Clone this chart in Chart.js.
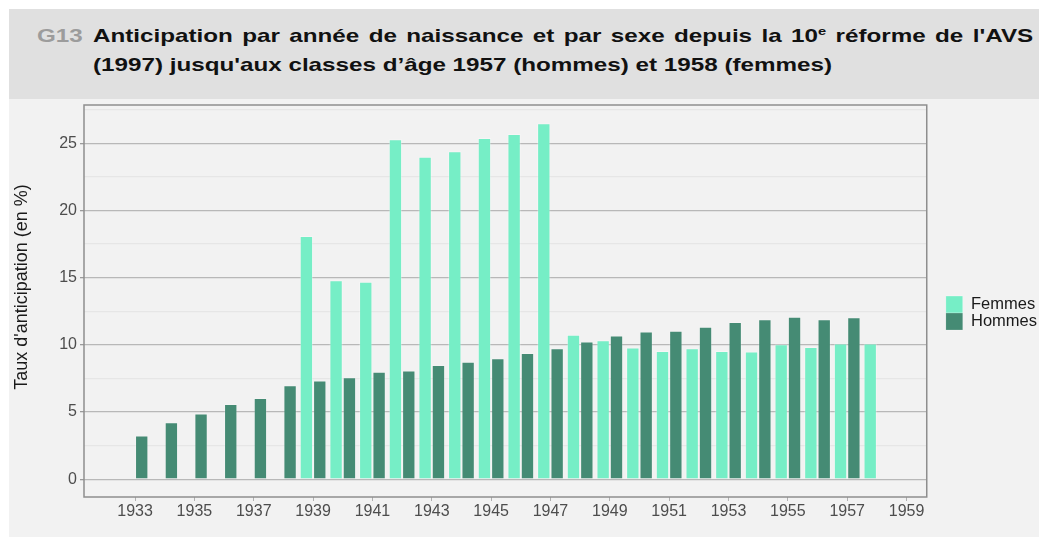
<!DOCTYPE html>
<html>
<head>
<meta charset="utf-8">
<script src="https://cdn.jsdelivr.net/npm/chart.js@4.4.1/dist/chart.umd.min.js"></script>
<style>
html,body{margin:0;padding:0;background:#ffffff;overflow:hidden;width:1039px;height:537px;}
#head{position:absolute;left:9px;top:9px;width:1030px;height:90px;background:#e0e0e0;}
.ht{position:absolute;top:12px;font-family:"Liberation Sans",Arial,sans-serif;font-weight:bold;font-size:19px;line-height:29px;transform:scaleX(1.274);transform-origin:0 0;white-space:normal;}
#g{left:28px;color:#9c9c9c;}
#t{left:84px;width:738px;color:#111111;text-align:justify;}
#t sup{font-size:11.5px;line-height:0;vertical-align:7px;}
#panel{position:absolute;left:9px;top:99px;width:1030px;height:438px;background:#f2f2f2;overflow:hidden;}
#c{position:absolute;left:0;top:0;}
</style>
</head>
<body>
<div id="head">
  <div id="g" class="ht">G13</div>
  <div id="t" class="ht">Anticipation par année de naissance et par sexe depuis la 10<sup>e</sup> réforme de l'AVS (1997) jusqu'aux classes d’âge 1957 (hommes) et 1958 (femmes)</div>
</div>
<div id="panel"><canvas id="c" width="1038" height="438"></canvas></div>
<script>
// ---- data ----
const years = [1933,1934,1935,1936,1937,1938,1939,1940,1941,1942,1943,1944,1945,1946,1947,1948,1949,1950,1951,1952,1953,1954,1955,1956,1957,1958];
const femmes = [null,null,null,null,null,null,18.1,14.8,14.7,25.3,24.0,24.4,25.4,25.7,26.5,10.75,10.35,9.8,9.55,9.75,9.55,9.5,10.05,9.85,10.1,10.1];
const hommes = [3.25,4.25,4.9,5.6,6.05,7.0,7.35,7.6,8.0,8.1,8.5,8.75,9.0,9.4,9.75,10.25,10.7,11.0,11.05,11.35,11.7,11.9,12.1,11.9,12.05,null];
const xTickYears = [1933,1935,1937,1939,1941,1943,1945,1947,1949,1951,1953,1955,1957,1959];
const yTickLabels = [0,5,10,15,20,25];
const yMinorLines = [2.5,7.5,12.5,17.5,22.5,27.5];
const seriesNames = ['Femmes','Hommes'];
const yTitle = "Taux d'anticipation (en %)";

const FONT = '"Liberation Sans", Arial, sans-serif';

const panelBorder = {
  id: 'panelBorder',
  afterDatasetsDraw(chart) {
    const {ctx, chartArea: a} = chart;
    ctx.save();
    ctx.strokeStyle = '#8e8e8e';
    ctx.lineWidth = 1.5;
    ctx.strokeRect(a.left, a.top, a.right - a.left, a.bottom - a.top);
    ctx.restore();
  }
};

// y-axis title, centred on the whole panel (plot + x labels) as in the reference
const yAxisTitle = {
  id: 'yAxisTitle',
  afterDraw(chart) {
    const {ctx, chartArea: a} = chart;
    ctx.save();
    ctx.font = '18px ' + FONT;
    ctx.fillStyle = '#1a1a1a';
    ctx.textAlign = 'center';
    ctx.textBaseline = 'middle';
    ctx.translate(13, (a.top + a.bottom) / 2 - 14);
    ctx.rotate(-Math.PI / 2);
    ctx.fillText(yTitle, 0, 0);
    ctx.restore();
  }
};

new Chart(document.getElementById('c'), {
  type: 'bar',
  data: {
    labels: years,
    datasets: [
      { label: seriesNames[0], data: femmes, backgroundColor: '#76EEC6', borderColor: 'rgba(255,255,255,0.3)', borderWidth: 1 },
      { label: seriesNames[1], data: hommes, backgroundColor: '#458B74', borderColor: 'rgba(255,255,255,0.2)', borderWidth: 1 }
    ]
  },
  options: {
    responsive: false,
    animation: false,
    events: [],
    categoryPercentage: 0.9,
    barPercentage: 1.0,
    layout: { padding: { top: 6, bottom: 16, left: 0, right: 0 } },
    plugins: {
      tooltip: { enabled: false },
      legend: {
        position: 'right',
        align: 'center',
        labels: {
          boxWidth: 17, boxHeight: 17, padding: 0,
          color: '#1a1a1a',
          font: { family: FONT, size: 16.5 }
        }
      }
    },
    scales: {
      x: {
        type: 'linear',
        offset: false,
        min: 1931.28,
        max: 1959.68,
        grid: { offset: false, drawOnChartArea: false, drawTicks: true, tickLength: 4, tickColor: '#b0b0b0', lineWidth: 1 },
        border: { display: false },
        afterBuildTicks: s => { s.ticks = xTickYears.map(v => ({ value: v })); },
        afterFit: s => { s.height = 24; s.paddingLeft = 0; s.paddingRight = 0; },
        ticks: {
          autoSkip: false, maxRotation: 0, padding: 1,
          color: '#4d4d4d',
          font: { family: FONT, size: 16 },
          callback: v => String(v)
        }
      },
      y: {
        min: -1.32,
        max: 27.85,
        grid: {
          color: c => (c.tick && yTickLabels.includes(c.tick.value)) ? '#b8b8b8' : '#e6e6e6',
          tickColor: c => (c.tick && yTickLabels.includes(c.tick.value)) ? '#9a9a9a' : 'rgba(0,0,0,0)',
          lineWidth: 1.3,
          tickLength: 4
        },
        border: { display: false },
        afterBuildTicks: s => { s.ticks = yTickLabels.concat(yMinorLines).sort((a,b)=>a-b).map(v => ({ value: v })); },
        afterFit: s => { s.width = 75; s.paddingTop = 0; s.paddingBottom = 0; },
        ticks: {
          padding: 3,
          color: '#4d4d4d',
          font: { family: FONT, size: 16 },
          callback: v => yTickLabels.includes(v) ? String(v) : ''
        },
        title: { display: false, text: yTitle }
      },
      yR: {
        position: 'right',
        display: true,
        grid: { drawOnChartArea: false, drawTicks: false },
        border: { display: false },
        ticks: { display: false },
        afterFit: s => { s.width = 19; s.paddingTop = 0; s.paddingBottom = 0; }
      }
    }
  },
  plugins: [panelBorder, yAxisTitle]
});
</script>
</body>
</html>
